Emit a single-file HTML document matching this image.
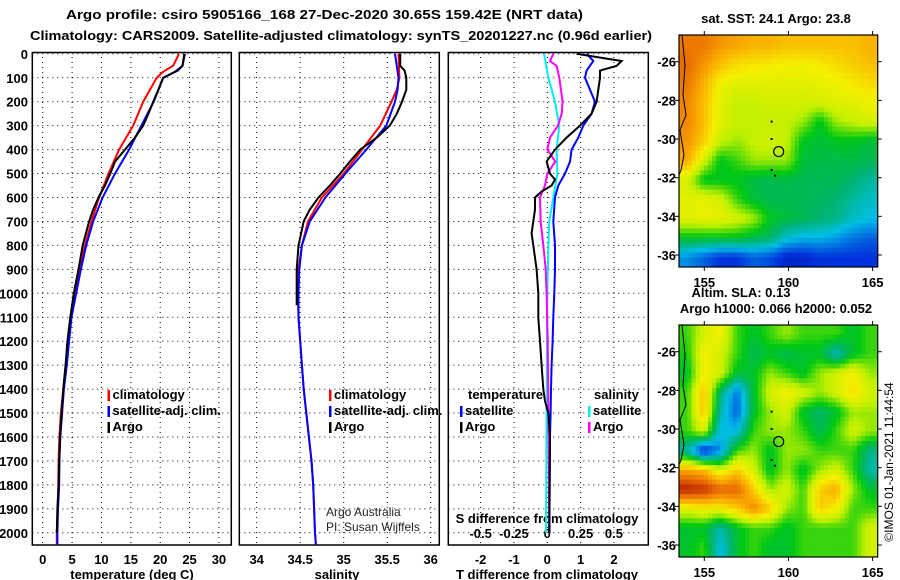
<!DOCTYPE html>
<html><head><meta charset="utf-8"><style>
body{margin:0;background:#fff}
svg{display:block;font-family:"Liberation Sans",sans-serif}
.b{font-weight:bold;font-size:13px}
</style></head><body>
<svg id="c" width="900" height="580" xmlns="http://www.w3.org/2000/svg"></svg>
<script>
// ---- data ----
const depthT=[0,50,70,100,150,200,250,300,350,400,450,500,550,600,650,700,800,900,1000,1100,1200,1300,1400,1500,1600,1700,1800,1900,2000];
const tempArgo=[24.1,23.8,23,20.5,19.7,18.8,18,17.1,15.7,14,12.3,11.5,10.6,9.5,8.6,7.9,6.8,6.1,5.3,4.7,4.2,3.9,3.5,3.2,2.95,2.8,2.7,2.5,2.4];
const depthC=[0,50,75,100,200,300,400,500,600,700,800,900,1000,1100,1200,1300,1400,1500,1600,1700,1800,1900,2000,2050];
const tempClim=[23.2,22.2,20.5,19.4,17.1,15.4,13,11.2,9.6,8.3,7.2,6.2,5.5,4.8,4.4,3.9,3.5,3.1,2.85,2.7,2.65,2.55,2.4,2.4];
const tempSat=[24.2,23.8,22.5,20.5,18.9,16.8,14.7,12.3,10.2,8.6,7.4,6.5,5.7,4.9,4.5,4.1,3.6,3.3,3.0,2.85,2.8,2.6,2.5,2.5];
const depthSA=[0,50,70,100,150,200,250,300,350,400,450,500,550,600,650,700,800,900,1000,1050];
const salArgo=[35.65,35.65,35.7,35.72,35.72,35.67,35.61,35.53,35.38,35.19,35.07,34.96,34.84,34.71,34.61,34.54,34.48,34.46,34.46,34.46];
const depthS=[0,100,150,200,300,400,500,600,700,800,900,1000,1100,1200,1300,1400,1500,1600,1700,1800,1900,2000,2050];
const salClim=[35.63,35.64,35.61,35.55,35.42,35.21,35.0,34.75,34.59,34.52,34.48,34.47,34.48,34.5,34.52,34.54,34.57,34.6,34.63,34.65,34.66,34.67,34.68];
const salSat=[35.59,35.63,35.62,35.59,35.49,35.26,35.02,34.79,34.61,34.52,34.49,34.48,34.48,34.5,34.52,34.54,34.57,34.6,34.63,34.65,34.66,34.67,34.68];
const depthDA=[0,20,30,50,70,100,150,200,250,300,350,400,450,500,525,550,575,600,650,700,750,800,900,1000,1100,1200,1300,1400,1450,1500,1600,2000];
const dTArgo=[0.88,1.78,2.23,2.08,1.58,1.58,1.53,1.48,1.33,0.98,0.58,0.23,-0.02,0.08,0.23,0.13,-0.17,-0.37,-0.37,-0.42,-0.47,-0.42,-0.32,-0.27,-0.27,-0.22,-0.17,-0.12,-0.07,0.03,0.08,0.06];
const depthDS=[0,30,70,100,200,250,300,350,400,450,500,550,600,700,800,900,1000,1100,1200,1300,1400,1500,1600,2000];
const dTSat=[1.18,1.38,1.18,1.13,1.43,1.33,1.08,0.93,0.73,0.68,0.53,0.33,0.23,0.18,0.23,0.23,0.21,0.18,0.16,0.13,0.11,0.1,0.08,0.06];
const depthSS=[0,100,200,300,400,500,600,700,800,1000,1500,2000];
const dSSat=[-0.025,0.008,0.058,0.09,0.07,0.075,0.045,0.015,0.008,0,-0.005,-0.01];
const depthSAr=[0,30,50,100,200,250,300,350,400,450,500,550,600,700,800,900,1000,1200,1500,2000];
const dSArgo=[0.045,0.02,0.07,0.09,0.115,0.108,0.08,0.02,0,0.06,0,-0.017,-0.055,-0.05,-0.03,-0.012,-0.005,0.003,0.008,0.015];
const depthTicks=[0,100,200,300,400,500,600,700,800,900,1000,1100,1200,1300,1400,1500,1600,1700,1800,1900,2000];
const tempTicks=[0,5,10,15,20,25,30];
const salTicks=[34,34.5,35,35.5,36];
const dTTicks=[-2,-1,0,1,2];
const dSTicks=[-0.5,-0.25,0,0.25,0.5];
const sstGrid=[
[0.82,0.82,0.78,0.76,0.74,0.74,0.72,0.72,0.72,0.72,0.72,0.74],
[0.84,0.78,0.72,0.68,0.67,0.66,0.65,0.65,0.66,0.68,0.7,0.72],
[0.82,0.74,0.64,0.62,0.62,0.62,0.62,0.62,0.63,0.64,0.66,0.68],
[0.8,0.72,0.62,0.58,0.58,0.6,0.6,0.6,0.6,0.62,0.62,0.64],
[0.8,0.72,0.62,0.58,0.58,0.58,0.58,0.55,0.46,0.55,0.58,0.6],
[0.78,0.7,0.58,0.55,0.58,0.6,0.58,0.46,0.44,0.46,0.46,0.44],
[0.75,0.6,0.46,0.5,0.55,0.55,0.55,0.44,0.43,0.43,0.43,0.42],
[0.6,0.46,0.46,0.46,0.43,0.42,0.43,0.42,0.42,0.42,0.4,0.36],
[0.62,0.63,0.6,0.5,0.44,0.42,0.42,0.42,0.41,0.4,0.36,0.33],
[0.62,0.63,0.63,0.6,0.56,0.46,0.44,0.42,0.4,0.38,0.33,0.3],
[0.46,0.46,0.46,0.46,0.43,0.41,0.32,0.29,0.29,0.26,0.22,0.2],
[0.25,0.2,0.15,0.15,0.2,0.18,0.12,0.12,0.15,0.15,0.15,0.15]];
const slaGrid=[
[0.5,0.6,0.65,0.5,0.45,0.5,0.55,0.5,0.5,0.5,0.45,0.5],
[0.48,0.65,0.6,0.5,0.42,0.45,0.42,0.45,0.45,0.33,0.45,0.5],
[0.45,0.65,0.6,0.45,0.45,0.55,0.5,0.45,0.55,0.6,0.65,0.55],
[0.5,0.72,0.4,0.22,0.45,0.6,0.65,0.6,0.55,0.6,0.68,0.6],
[0.5,0.72,0.35,0.2,0.45,0.55,0.6,0.45,0.4,0.45,0.55,0.55],
[0.5,0.6,0.3,0.3,0.5,0.55,0.55,0.5,0.42,0.5,0.6,0.55],
[0.35,0.12,0.25,0.5,0.55,0.45,0.55,0.55,0.5,0.5,0.5,0.38],
[0.75,0.72,0.6,0.7,0.6,0.45,0.55,0.45,0.55,0.6,0.5,0.35],
[0.95,0.92,0.85,0.85,0.7,0.55,0.6,0.5,0.7,0.75,0.55,0.45],
[0.62,0.65,0.65,0.7,0.8,0.7,0.55,0.5,0.7,0.65,0.5,0.5],
[0.45,0.45,0.35,0.45,0.5,0.5,0.45,0.5,0.5,0.5,0.5,0.6],
[0.45,0.5,0.3,0.45,0.5,0.45,0.45,0.5,0.5,0.5,0.5,0.6]];
const lonTicks=[155,160,165];
const latTicks=[-26,-28,-30,-32,-34,-36];
const floatLon=159.42, floatLat=-30.65;

// ---- helpers ----
const svg=document.getElementById('c');const NS='http://www.w3.org/2000/svg';
function mk(tag,at,txt,parent){const e=document.createElementNS(NS,tag);for(const k in at)e.setAttribute(k,at[k]);if(txt!=null)e.textContent=txt;(parent||svg).appendChild(e);return e;}
const yD=d=>53.8+d*0.2395;
const xT=t=>42.7+t*5.875;
const xS=s=>256.7+(s-34)*87;
const xDT=t=>547.3+t*33.33;
const xDS=s=>547.3+s*133.3;
function line(xs,ds,xf,col,name){
  const pts=xs.map((v,i)=>xf(v).toFixed(1)+','+yD(ds[i]).toFixed(1)).join(' ');
  const p=mk('polyline',{points:pts,fill:'none',stroke:col,'stroke-width':2});
  
  
}
function panel(x0,x1,xt,xf,name){
  const g=mk('g',{});
  
  
  depthTicks.forEach(d=>mk('line',{x1:x0,x2:x1,y1:yD(d),y2:yD(d),stroke:'#000','stroke-dasharray':'1,4','stroke-width':1},null,g));
  xt.forEach(v=>mk('line',{x1:xf(v),x2:xf(v),y1:52,y2:545,stroke:'#000','stroke-dasharray':'1,4','stroke-width':1},null,g));
  mk('rect',{x:x0,y:52.5,width:x1-x0,height:492.5,fill:'none',stroke:'#000','stroke-width':1.5},null,g);
  return g;
}
function legendItem(x,y,col,txt,name){
  const g=mk('g',{});
  
  
  if(col) mk('rect',{x:x,y:y-9,width:2.5,height:11,fill:col},null,g);
  mk('text',{x:x+5,y:y,class:'b'},txt,g);
}

// titles
mk('text',{x:66,y:19,class:'b','font-size':14,textLength:517,lengthAdjust:'spacingAndGlyphs'},'Argo profile: csiro 5905166_168 27-Dec-2020 30.65S 159.42E (NRT data)');
mk('text',{x:30,y:40,class:'b','font-size':14,textLength:622,lengthAdjust:'spacingAndGlyphs'},'Climatology: CARS2009. Satellite-adjusted climatology: synTS_20201227.nc (0.96d earlier)');

// depth labels
depthTicks.forEach(d=>{const t=mk('text',{x:28,y:yD(d)+5,class:'b','text-anchor':'end'},String(d));});

// temperature panel
panel(32.3,231.3,tempTicks,xT,'temperature-panel');
tempTicks.forEach(v=>mk('text',{x:xT(v),y:564,class:'b','text-anchor':'middle'},String(v)));
mk('text',{x:132,y:579,class:'b','text-anchor':'middle'},'temperature (deg C)');
line(tempClim,depthC,xT,'#f00','temp-climatology-line');
line(tempSat,depthC,xT,'#00f','temp-satellite-line');
line(tempArgo,depthT,xT,'#000','temp-argo-line');
legendItem(107.5,399,'#f00','climatology','legend-climatology');
legendItem(107.5,415,'#00f','satellite-adj. clim.','legend-satellite');
legendItem(107.5,431,'#000','Argo','legend-argo');

// salinity panel
panel(239.3,439.3,salTicks,xS,'salinity-panel');
salTicks.forEach(v=>mk('text',{x:xS(v),y:564,class:'b','text-anchor':'middle'},String(v)));
mk('text',{x:337,y:579,class:'b','text-anchor':'middle'},'salinity');
line(salClim,depthS,xS,'#f00','sal-climatology-line');
line(salSat,depthS,xS,'#00f','sal-satellite-line');
line(salArgo,depthSA,xS,'#000','sal-argo-line');
legendItem(329,399,'#f00','climatology','legend-climatology-s');
legendItem(329,415,'#00f','satellite-adj. clim.','legend-satellite-s');
legendItem(329,431,'#000','Argo','legend-argo-s');
mk('text',{x:326,y:516,'font-size':12,fill:'#222'},'Argo Australia');
mk('text',{x:326,y:531,'font-size':12,fill:'#222'},'PI: Susan Wijffels');

// difference panel
panel(448.3,648.3,dTTicks,xDT,'difference-panel');
dTTicks.forEach(v=>mk('text',{x:xDT(v),y:564,class:'b','text-anchor':'middle'},String(v)));
dSTicks.forEach(v=>mk('text',{x:xDS(v),y:538,class:'b','text-anchor':'middle'},String(v)));
mk('text',{x:547,y:523,class:'b','text-anchor':'middle'},'S difference from climatology');
mk('text',{x:547,y:579,class:'b','text-anchor':'middle'},'T difference from climatology');
line(dSSat,depthSS,xDS,'#0ee','dS-satellite-line');
line(dSArgo,depthSAr,xDS,'#f0f','dS-argo-line');
line(dTSat,depthDS,xDT,'#00f','dT-satellite-line');
line(dTArgo,depthDA,xDT,'#000','dT-argo-line');
mk('text',{x:468,y:399,class:'b'},'temperature');
legendItem(460,415,'#00f','satellite','legend-dT-satellite');
legendItem(460,431,'#000','Argo','legend-dT-argo');
mk('text',{x:594,y:399,class:'b'},'salinity');
legendItem(588,415,'#0ee','satellite','legend-dS-satellite');
legendItem(588,431,'#f0f','Argo','legend-dS-argo');

// ---- maps ----
const cmapStops=[[0,[0,0,130]],[0.15,[0,50,220]],[0.3,[0,190,230]],[0.4,[0,180,110]],[0.47,[0,200,20]],[0.57,[190,240,0]],[0.65,[245,240,0]],[0.75,[250,170,0]],[0.85,[230,100,0]],[1,[160,0,0]]];
function cmap(v){
  v=Math.max(0,Math.min(1,v));
  for(let i=1;i<cmapStops.length;i++){
    const [a,ca]=cmapStops[i-1],[b,cb]=cmapStops[i];
    if(v<=b){const f=(v-a)/(b-a);return `rgb(${ca.map((c,k)=>Math.round(c+(cb[k]-c)*f)).join(',')})`;}
  }
  return 'rgb(160,0,0)';
}
function sample(grid,r,c){
  const R=grid.length-1,C=grid[0].length-1;
  r=Math.max(0,Math.min(R,r));c=Math.max(0,Math.min(C,c));
  const r0=Math.floor(r),c0=Math.floor(c),r1=Math.min(R,r0+1),c1=Math.min(C,c0+1),fr=r-r0,fc=c-c0;
  return grid[r0][c0]*(1-fr)*(1-fc)+grid[r0][c1]*(1-fr)*fc+grid[r1][c0]*fr*(1-fc)+grid[r1][c1]*fr*fc;
}
function map(top,grid,name,title,tY){
  const L=679,R=877.7,T=top,B=top+232;
  const lonX=lo=>704.3+(lo-155)*16.83;
  const latY=la=>top+26.7+(-26-la)*19.33;
  const g=mk('g',{});
  
  
  const rows=grid.length,cols=grid[0].length,up=4;
  const cw=(R-L)/(cols*up),ch=(B-T)/(rows*up);
  for(let i=0;i<rows*up;i++)for(let j=0;j<cols*up;j++){
    const v=sample(grid,(i+0.5)/up-0.5,(j+0.5)/up-0.5);
    const c=mk('rect',{x:(L+j*cw).toFixed(2),y:(T+i*ch).toFixed(2),width:(cw+0.5).toFixed(2),height:(ch+0.5).toFixed(2),fill:cmap(v)},null,g);
    
    
  }
  mk('polyline',{points:`682,${T} 685,${T+30} 683,${T+60} 686,${T+80} 680,${T+95} 684,${T+120} 681,${T+135} 679,${T+140}`,fill:'none',stroke:'#000','stroke-width':1},null,g);
  mk('circle',{cx:lonX(floatLon),cy:latY(floatLat),r:5,fill:'none',stroke:'#000','stroke-width':1.2},null,g);
  [[159.0,-29.1],[159.0,-30.0],[159.0,-31.6],[159.2,-31.9]].forEach(p=>mk('rect',{x:lonX(p[0])-1,y:latY(p[1])-1,width:2,height:2,fill:'#000'},null,g));
  mk('rect',{x:L,y:T,width:R-L,height:B-T,fill:'none',stroke:'#000','stroke-width':1.2},null,g);
  lonTicks.forEach(lo=>{mk('line',{x1:lonX(lo),x2:lonX(lo),y1:T-4,y2:T,stroke:'#000'},null,g);mk('line',{x1:lonX(lo),x2:lonX(lo),y1:B,y2:B+4,stroke:'#000'},null,g);
    mk('text',{x:lonX(lo),y:B+20,class:'b','text-anchor':'middle'},String(lo),g);});
  latTicks.forEach(la=>{mk('line',{x1:R,x2:R+4,y1:latY(la),y2:latY(la),stroke:'#000'},null,g);
    mk('line',{x1:L-4,x2:L,y1:latY(la),y2:latY(la),stroke:'#000'},null,g);
    mk('text',{x:676,y:latY(la)+5,class:'b','text-anchor':'end'},String(la),g);});
  const t=mk('text',{x:776,y:tY,class:'b','text-anchor':'middle'},title);
  
  
}
map(35,sstGrid,'sst-map','sat. SST: 24.1 Argo: 23.8',23);
mk('text',{x:741,y:297,class:'b','text-anchor':'middle'},'Altim. SLA: 0.13');
map(325,slaGrid,'sla-map','Argo h1000: 0.066 h2000: 0.052',313);
const cp=mk('text',{x:0,y:0,'font-size':12,'text-anchor':'middle',transform:'translate(893,462) rotate(-90)'},'©IMOS 01-Jan-2021 11:44:54');


</script>
</body></html>
